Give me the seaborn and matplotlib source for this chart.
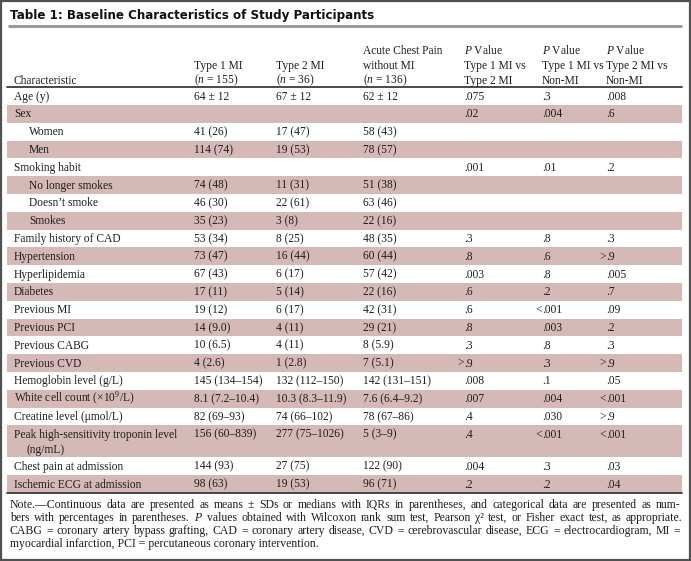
import numpy as np
import pandas as pd
import matplotlib
matplotlib.use("Agg")
import matplotlib.pyplot as plt
import seaborn as sns

# table data
characteristics = ["Age (y)", "Sex", "Women", "Men", "Smoking habit", "No longer smokes",
                   "Doesn’t smoke", "Smokes", "Family history of CAD", "Hypertension",
                   "Hyperlipidemia", "Diabetes", "Previous MI", "Previous PCI", "Previous CABG",
                   "Previous CVD", "Hemoglobin level (g/L)", "White cell count (×10$^9$/L)",
                   "Creatine level (μmol/L)", "Peak high-sensitivity troponin level\n(ng/mL)",
                   "Chest pain at admission", "Ischemic ECG at admission"]
indented = ["Women", "Men", "No longer smokes", "Doesn’t smoke", "Smokes"]
type1_mi = ["64 ± 12", "", "41 (26)", "114 (74)", "", "74 (48)", "46 (30)", "35 (23)", "53 (34)",
            "73 (47)", "67 (43)", "17 (11)", "19 (12)", "14 (9.0)", "10 (6.5)", "4 (2.6)",
            "145 (134–154)", "8.1 (7.2–10.4)", "82 (69–93)", "156 (60–839)", "144 (93)", "98 (63)"]
type2_mi = ["67 ± 12", "", "17 (47)", "19 (53)", "", "11 (31)", "22 (61)", "3 (8)", "8 (25)",
            "16 (44)", "6 (17)", "5 (14)", "6 (17)", "4 (11)", "4 (11)", "1 (2.8)",
            "132 (112–150)", "10.3 (8.3–11.9)", "74 (66–102)", "277 (75–1026)", "27 (75)", "19 (53)"]
acute_no_mi = ["62 ± 12", "", "58 (43)", "78 (57)", "", "51 (38)", "63 (46)", "22 (16)", "48 (35)",
               "60 (44)", "57 (42)", "22 (16)", "42 (31)", "29 (21)", "8 (5.9)", "7 (5.1)",
               "142 (131–151)", "7.6 (6.4–9.2)", "78 (67–86)", "5 (3–9)", "122 (90)", "96 (71)"]
p_t1_t2 = [".075", ".02", "", "", ".001", "", "", "", ".3", ".8", ".003", ".6", ".6", ".8", ".3",
           ">.9", ".008", ".007", ".4", ".4", ".004", ".2"]
p_t1_non = [".3", ".004", "", "", ".01", "", "", "", ".8", ".6", ".8", ".2", "<.001", ".003", ".8",
            ".3", ".1", ".004", ".030", "<.001", ".3", ".2"]
p_t2_non = [".008", ".6", "", "", ".2", "", "", "", ".3", ">.9", ".005", ".7", ".09", ".2", ".3",
            ">.9", ".05", "<.001", ">.9", "<.001", ".03", ".04"]

headers = [["", "", "Characteristic"],
           ["", "Type 1 MI", "($\\it{n}$ = 155)"],
           ["", "Type 2 MI", "($\\it{n}$ = 36)"],
           ["Acute Chest Pain", "without MI", "($\\it{n}$ = 136)"],
           ["$\\it{P}$ Value", "Type 1 MI vs", "Type 2 MI"],
           ["$\\it{P}$ Value", "Type 1 MI vs", "Non-MI"],
           ["$\\it{P}$ Value", "Type 2 MI vs", "Non-MI"]]

title = "Table 1: Baseline Characteristics of Study Participants"
note_lines = [
    "Note.—Continuous data are presented as means ± SDs or medians with IQRs in parentheses, and categorical data are presented as num-",
    "bers with percentages in parentheses. $\\it{P}$ values obtained with Wilcoxon rank sum test, Pearson χ² test, or Fisher exact test, as appropriate.",
    "CABG = coronary artery bypass grafting, CAD = coronary artery disease, CVD = cerebrovascular disease, ECG = electrocardiogram, MI =",
    "myocardial infarction, PCI = percutaneous coronary intervention.",
]

df = pd.DataFrame({"char": characteristics, "t1": type1_mi, "t2": type2_mi, "acute": acute_no_mi,
                   "p12": p_t1_t2, "p1n": p_t1_non, "p2n": p_t2_non})

sns.set_theme(style="white")
plt.rcParams["font.family"] = ["Liberation Serif", "DejaVu Serif"]
plt.rcParams["mathtext.fontset"] = "custom"
plt.rcParams["mathtext.rm"] = "Liberation Serif"
plt.rcParams["mathtext.it"] = "Liberation Serif:italic"

W, H = 691, 561
fig = plt.figure(figsize=(W / 100, H / 100), dpi=100)
ax = fig.add_axes([0, 0, 1, 1])
ax.set_xlim(0, W)
ax.set_ylim(H, 0)
ax.axis("off")
renderer = fig.canvas.get_renderer()

band_color = "#d5b9b7"
text_color = "#1e1e1e"
fs = 8.3
col_x = [14, 194, 276, 363, 464, 542, 606]
indent_x = 29
left, right = 7, 682

# frame
ax.add_patch(plt.Rectangle((1, 1), W - 2, H - 2, fill=False, ec="#505050", lw=1.6))

# title
ax.text(10, 15, title, fontsize=8.6, fontweight="bold", family="DejaVu Sans", color="#111",
        va="center", ha="left")
ax.plot([left + 1, right], [26, 26], color="#9a9a9a", lw=2.2, solid_capstyle="butt")

# header
head_y = [50, 65, 80]
for j, lines in enumerate(headers):
    for k, line in enumerate(lines):
        if line:
            ax.text(col_x[j], head_y[k] + 3.5, line, fontsize=fs, color=text_color,
                    va="baseline", ha="left")
rule_top = 86.5
ax.plot([left, right], [rule_top, rule_top], color="#3a3a3a", lw=1.3)


def put_value(x, y, s):
    if s[:1] in "<>":
        ax.text(x, y, s[0], fontsize=fs, color=text_color, va="baseline", ha="right")
        s = s[1:]
    ax.text(x, y, s, fontsize=fs, color=text_color, va="baseline", ha="left")


row_h = 17.8
y = rule_top + 0.6
for i, row in df.iterrows():
    lines = row["char"].split("\n")
    h = row_h if len(lines) == 1 else 32
    if i % 2 == 1:
        ax.add_patch(plt.Rectangle((left, y), right - left, h, color=band_color, lw=0))
    base = y + row_h / 2 + 3.5
    cx = indent_x if row["char"] in indented else col_x[0]
    ax.text(cx, base, lines[0], fontsize=fs, color=text_color, va="baseline", ha="left")
    if len(lines) > 1:
        ax.text(27, base + 15, lines[1], fontsize=fs, color=text_color, va="baseline", ha="left")
    for j, key in enumerate(["t1", "t2", "acute", "p12", "p1n", "p2n"]):
        if row[key]:
            put_value(col_x[j + 1], base, row[key])
    y += h

ax.plot([left, right], [y + 0.5, y + 0.5], color="#3a3a3a", lw=1.3)


# note, justified like the journal layout
note_fs = 8.5


def text_width(s):
    t = ax.text(0, 0, s, fontsize=note_fs)
    bb = t.get_window_extent(renderer)
    t.remove()
    return bb.width


note_left, note_right = 10, 680
space = text_width("a b") - text_width("ab")
for k, line in enumerate(note_lines):
    yy = y + 15 + k * 13
    words = line.split(" ")
    if k == len(note_lines) - 1:
        ax.text(note_left, yy, line, fontsize=note_fs, color=text_color, va="baseline", ha="left")
        continue
    natural = text_width(line)
    gap = space + (note_right - note_left - natural) / (len(words) - 1)
    xx = note_left
    for w in words:
        ax.text(xx, yy, w, fontsize=note_fs, color=text_color, va="baseline", ha="left")
        xx += text_width(w) + gap

fig.savefig("out.png", dpi=100)
